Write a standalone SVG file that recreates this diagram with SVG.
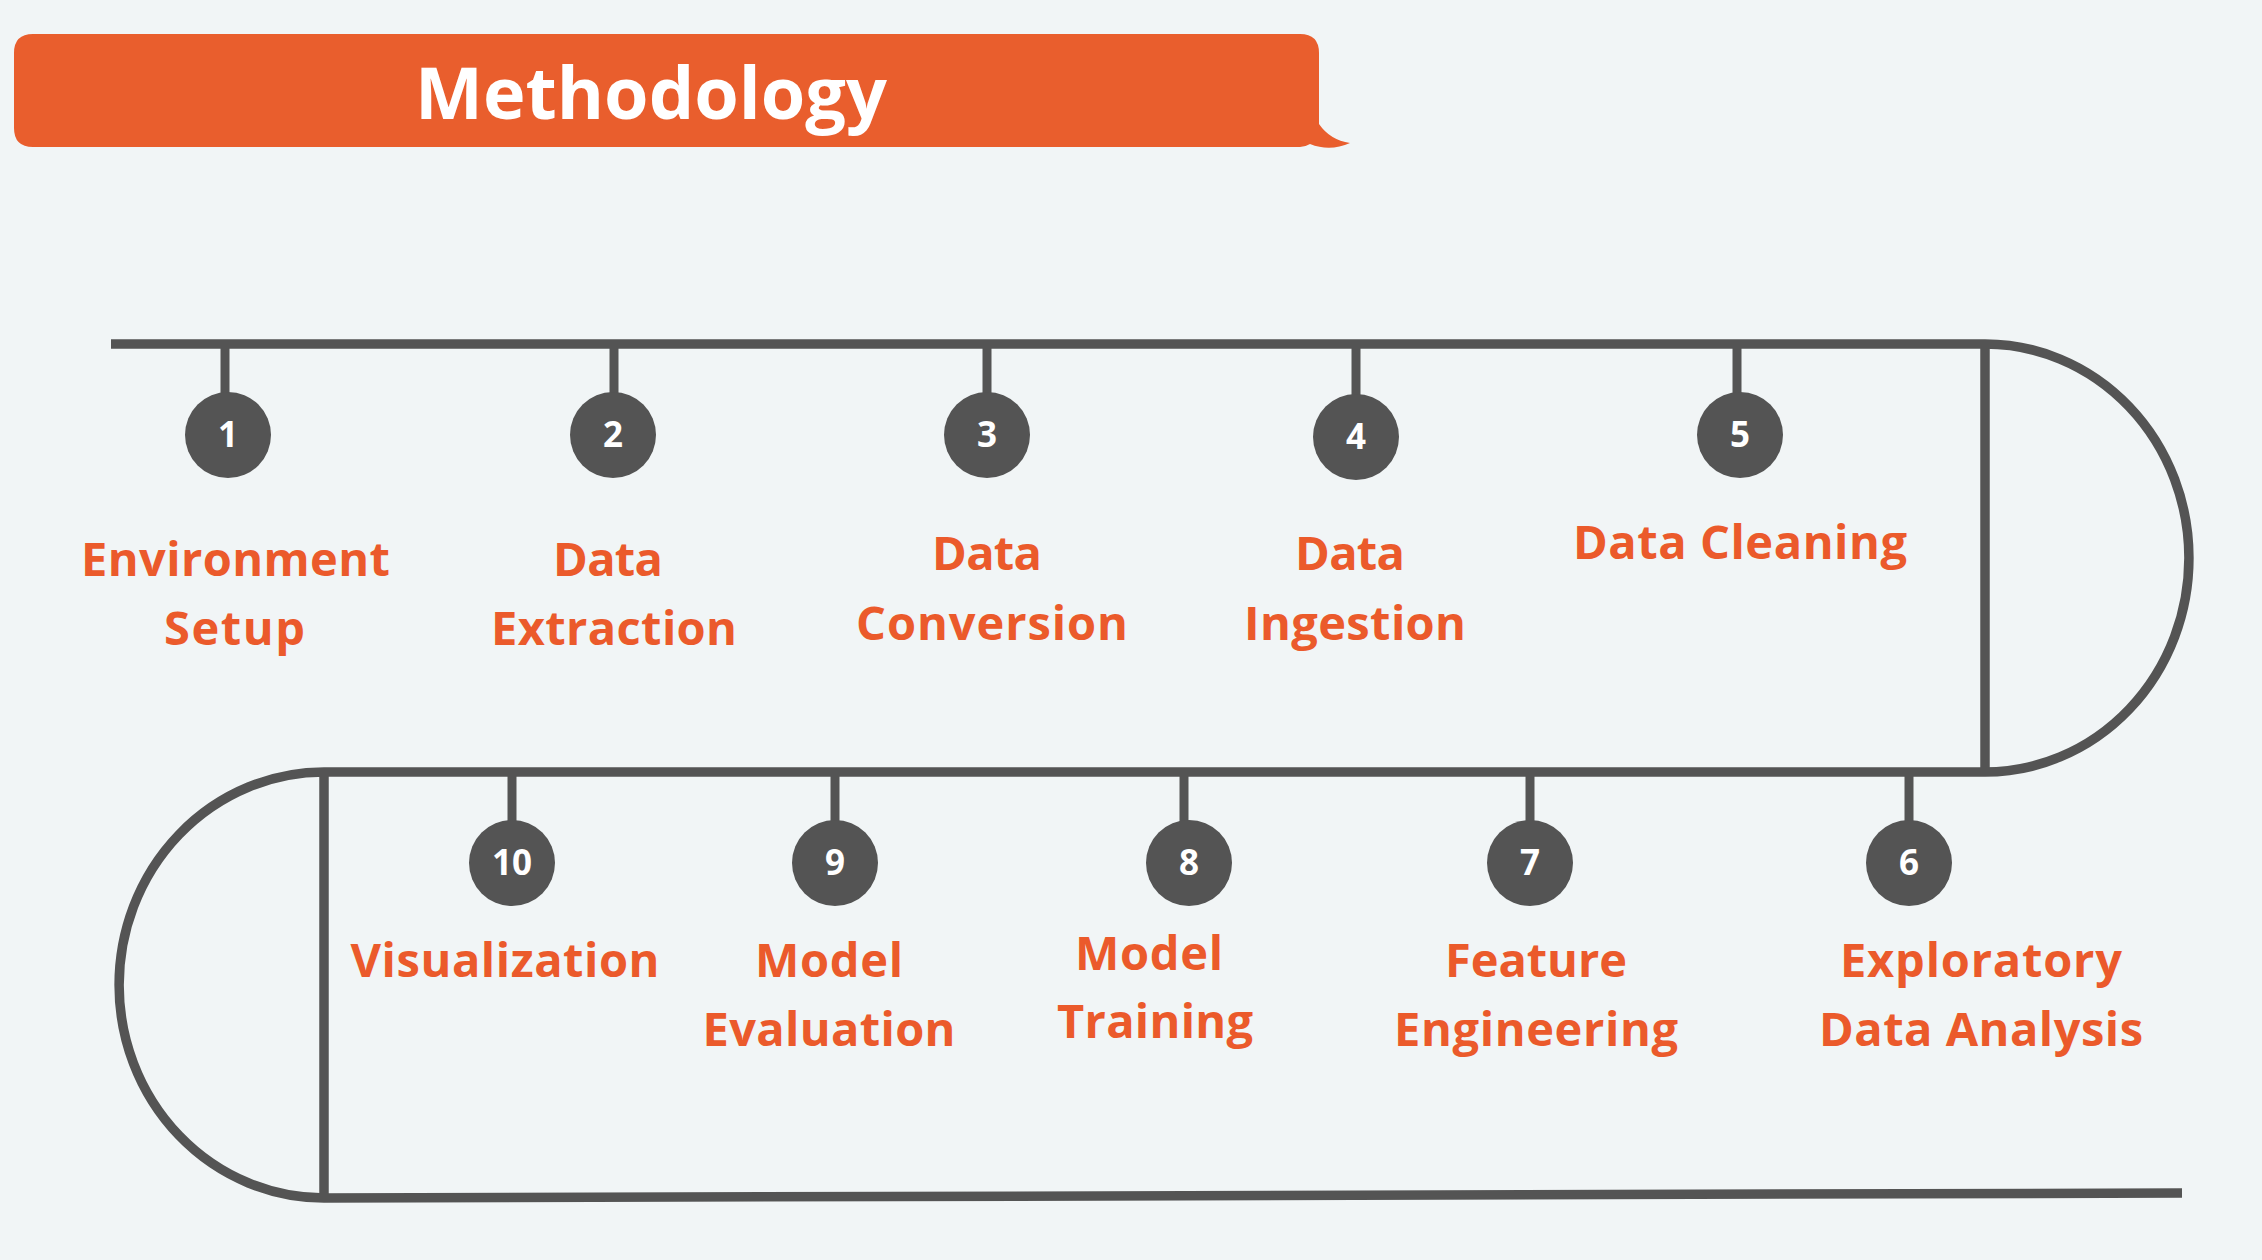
<svg xmlns="http://www.w3.org/2000/svg" width="2262" height="1260" viewBox="0 0 2262 1260">
  <style>
    .bg { fill: #F1F5F6; }
    .line { fill: none; stroke: #545454; stroke-width: 9.5; stroke-linecap: butt; }
    .tick { fill: none; stroke: #545454; stroke-width: 9; }
    .dot { fill: #545454; }
    .num { font-family: "Open Sans", "Liberation Sans", sans-serif; font-weight: 700; font-size: 35px; fill: #FFFFFF; text-anchor: middle; }
    .lbl { font-family: "Open Sans", "Liberation Sans", sans-serif; font-weight: 700; font-size: 47px; fill: #EB5A2B; text-anchor: middle; }
    .title { font-family: "Open Sans", "Liberation Sans", sans-serif; font-weight: 700; font-size: 72px; fill: #FFFFFF; text-anchor: middle; }
  </style>
  <rect class="bg" x="0" y="0" width="2262" height="1260"/>

  <g id="header">
    <path d="M 33 34 H 1300 Q 1319 34 1319 53 V 124 Q 1330 140 1350 143 Q 1330 152 1310 144 Q 1305 147 1300 147 H 33 Q 14 147 14 128 V 53 Q 14 34 33 34 Z" fill="#E95E2D"/>
    <text class="title" x="651" y="119">Methodology</text>
  </g>

  <g id="connectors">
    <path class="line" d="M 111 344 H 1985 A 204 214 0 0 1 1985 772 H 324 A 205 213 0 0 0 324 1198 L 2182 1193"/>
    <line class="line" x1="1985" y1="344" x2="1985" y2="772"/>
    <line class="line" x1="324" y1="772" x2="324" y2="1198"/>
    <line class="tick" x1="225" y1="344" x2="225" y2="400"/>
    <line class="tick" x1="614" y1="344" x2="614" y2="400"/>
    <line class="tick" x1="987" y1="344" x2="987" y2="400"/>
    <line class="tick" x1="1356" y1="344" x2="1356" y2="400"/>
    <line class="tick" x1="1737" y1="344" x2="1737" y2="400"/>
    <line class="tick" x1="512" y1="772" x2="512" y2="828"/>
    <line class="tick" x1="835" y1="772" x2="835" y2="828"/>
    <line class="tick" x1="1184" y1="772" x2="1184" y2="828"/>
    <line class="tick" x1="1530" y1="772" x2="1530" y2="828"/>
    <line class="tick" x1="1909" y1="772" x2="1909" y2="828"/>
  </g>

  <g id="step1">
    <circle class="dot" cx="228" cy="435" r="43"/>
    <text class="num" x="228" y="447">1</text>
    <text class="lbl" x="235.5" y="576" textLength="309" lengthAdjust="spacing">Environment</text>
    <text class="lbl" x="234.5" y="645" textLength="141" lengthAdjust="spacing">Setup</text>
  </g>
  <g id="step2">
    <circle class="dot" cx="613" cy="435" r="43"/>
    <text class="num" x="613" y="447">2</text>
    <text class="lbl" x="608" y="576" textLength="110" lengthAdjust="spacing">Data</text>
    <text class="lbl" x="614" y="645" textLength="246" lengthAdjust="spacing">Extraction</text>
  </g>
  <g id="step3">
    <circle class="dot" cx="987" cy="435" r="43"/>
    <text class="num" x="987" y="447">3</text>
    <text class="lbl" x="987" y="570" textLength="110" lengthAdjust="spacing">Data</text>
    <text class="lbl" x="992" y="640" textLength="272" lengthAdjust="spacing">Conversion</text>
  </g>
  <g id="step4">
    <circle class="dot" cx="1356" cy="437" r="43"/>
    <text class="num" x="1356" y="449">4</text>
    <text class="lbl" x="1350" y="570" textLength="110" lengthAdjust="spacing">Data</text>
    <text class="lbl" x="1355" y="640" textLength="222" lengthAdjust="spacing">Ingestion</text>
  </g>
  <g id="step5">
    <circle class="dot" cx="1740" cy="435" r="43"/>
    <text class="num" x="1740" y="447">5</text>
    <text class="lbl" x="1740" y="559" textLength="334" lengthAdjust="spacing">Data Cleaning</text>
  </g>
  <g id="step6">
    <circle class="dot" cx="1909" cy="863" r="43"/>
    <text class="num" x="1909" y="875">6</text>
    <text class="lbl" x="1981" y="977" textLength="282" lengthAdjust="spacing">Exploratory</text>
    <text class="lbl" x="1981" y="1046" textLength="324" lengthAdjust="spacing">Data Analysis</text>
  </g>
  <g id="step7">
    <circle class="dot" cx="1530" cy="863" r="43"/>
    <text class="num" x="1530" y="875">7</text>
    <text class="lbl" x="1536" y="977" textLength="182" lengthAdjust="spacing">Feature</text>
    <text class="lbl" x="1536" y="1046" textLength="284" lengthAdjust="spacing">Engineering</text>
  </g>
  <g id="step8">
    <circle class="dot" cx="1189" cy="863" r="43"/>
    <text class="num" x="1189" y="875">8</text>
    <text class="lbl" x="1149" y="970" textLength="148" lengthAdjust="spacing">Model</text>
    <text class="lbl" x="1155" y="1038" textLength="196" lengthAdjust="spacing">Training</text>
  </g>
  <g id="step9">
    <circle class="dot" cx="835" cy="863" r="43"/>
    <text class="num" x="835" y="875">9</text>
    <text class="lbl" x="829" y="977" textLength="148" lengthAdjust="spacing">Model</text>
    <text class="lbl" x="829" y="1046" textLength="253" lengthAdjust="spacing">Evaluation</text>
  </g>
  <g id="step10">
    <circle class="dot" cx="512" cy="863" r="43"/>
    <text class="num" x="512" y="875">10</text>
    <text class="lbl" x="505" y="977" textLength="309" lengthAdjust="spacing">Visualization</text>
  </g>
</svg>
